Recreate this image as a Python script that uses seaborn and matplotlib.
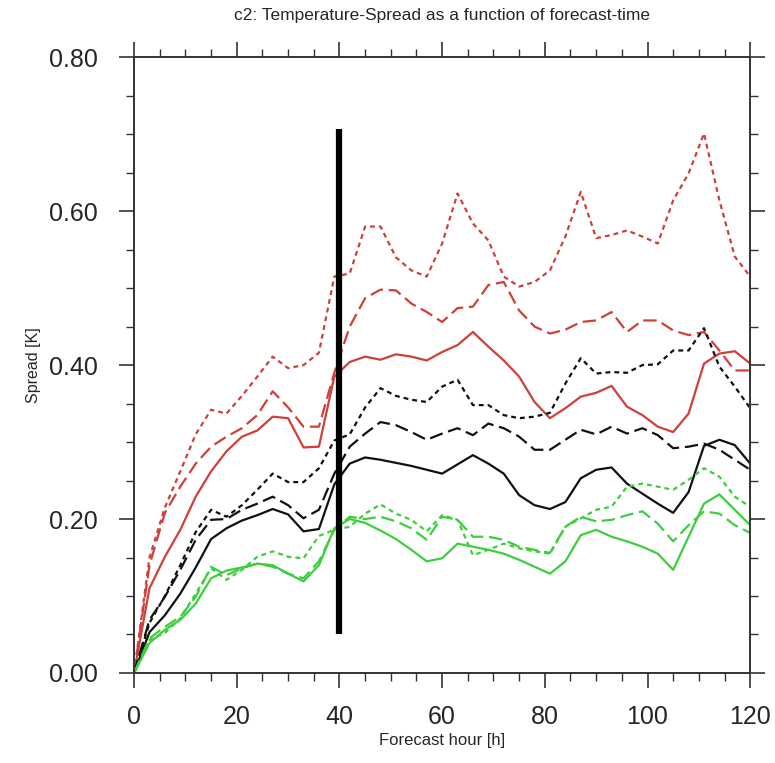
import numpy as np
import pandas as pd
import matplotlib
matplotlib.use("Agg")
import matplotlib.pyplot as plt
from matplotlib.ticker import MultipleLocator
import seaborn as sns

# Forecast lead times (3-hourly output)
hours = list(range(0, 121, 3))

# Spread [K] per experiment (colour) and variant (line style)
red_solid = [0.0, 0.11, 0.151, 0.186, 0.229, 0.262, 0.288, 0.307, 0.315, 0.333, 0.331,
             0.293, 0.294, 0.385, 0.404, 0.411, 0.407, 0.414, 0.411, 0.406, 0.417,
             0.426, 0.443, 0.424, 0.406, 0.385, 0.352, 0.331, 0.344, 0.359, 0.364,
             0.373, 0.346, 0.335, 0.32, 0.313, 0.337, 0.402, 0.415, 0.418, 0.402]
red_dash = [0.0, 0.14, 0.208, 0.242, 0.272, 0.294, 0.307, 0.318, 0.335, 0.366, 0.345,
            0.32, 0.32, 0.39, 0.45, 0.487, 0.498, 0.497, 0.48, 0.469, 0.456,
            0.474, 0.476, 0.504, 0.508, 0.471, 0.45, 0.441, 0.446, 0.456, 0.458,
            0.469, 0.443, 0.458, 0.458, 0.445, 0.439, 0.443, 0.419, 0.393, 0.393]
red_dot = [0.0, 0.15, 0.215, 0.262, 0.31, 0.342, 0.337, 0.36, 0.385, 0.411, 0.396,
           0.40, 0.416, 0.515, 0.519, 0.58, 0.58, 0.54, 0.523, 0.515, 0.558,
           0.623, 0.584, 0.562, 0.515, 0.502, 0.508, 0.523, 0.567, 0.625, 0.565,
           0.569, 0.575, 0.567, 0.558, 0.614, 0.649, 0.701, 0.614, 0.541, 0.515]
black_solid = [0.0, 0.053, 0.075, 0.103, 0.137, 0.174, 0.188, 0.198, 0.205, 0.213, 0.206,
               0.184, 0.187, 0.245, 0.272, 0.28, 0.277, 0.273, 0.269, 0.264, 0.259,
               0.271, 0.283, 0.272, 0.259, 0.231, 0.218, 0.213, 0.222, 0.253, 0.264,
               0.267, 0.246, 0.233, 0.22, 0.208, 0.235, 0.295, 0.303, 0.296, 0.272]
black_dash = [0.0, 0.069, 0.099, 0.134, 0.173, 0.199, 0.2, 0.212, 0.22, 0.229, 0.218,
              0.201, 0.212, 0.259, 0.294, 0.311, 0.326, 0.322, 0.313, 0.303, 0.311,
              0.318, 0.309, 0.324, 0.318, 0.307, 0.29, 0.29, 0.303, 0.316, 0.31,
              0.32, 0.311, 0.318, 0.309, 0.292, 0.294, 0.298, 0.29, 0.277, 0.264]
black_dot = [0.0, 0.065, 0.1, 0.14, 0.183, 0.212, 0.203, 0.218, 0.238, 0.259, 0.248,
             0.248, 0.266, 0.302, 0.31, 0.345, 0.37, 0.36, 0.355, 0.352, 0.372,
             0.381, 0.348, 0.348, 0.335, 0.331, 0.333, 0.338, 0.376, 0.409, 0.389,
             0.391, 0.39, 0.4, 0.401, 0.419, 0.419, 0.448, 0.398, 0.372, 0.344]
green_solid = [0.0, 0.039, 0.056, 0.069, 0.09, 0.123, 0.133, 0.137, 0.142, 0.14, 0.129,
               0.119, 0.14, 0.188, 0.2, 0.195, 0.185, 0.174, 0.16, 0.145, 0.149,
               0.168, 0.164, 0.16, 0.155, 0.147, 0.138, 0.129, 0.145, 0.179, 0.186,
               0.177, 0.171, 0.164, 0.155, 0.134, 0.177, 0.22, 0.232, 0.212, 0.192]
green_dash = [0.0, 0.045, 0.06, 0.073, 0.099, 0.138, 0.127, 0.136, 0.142, 0.138, 0.129,
              0.123, 0.145, 0.186, 0.203, 0.2, 0.203, 0.197, 0.188, 0.173, 0.203,
              0.199, 0.177, 0.177, 0.173, 0.164, 0.16, 0.156, 0.19, 0.203, 0.197,
              0.199, 0.205, 0.21, 0.194, 0.171, 0.192, 0.21, 0.207, 0.192, 0.182]
green_dot = [0.0, 0.043, 0.052, 0.071, 0.103, 0.136, 0.121, 0.134, 0.151, 0.158, 0.151,
             0.149, 0.178, 0.186, 0.19, 0.207, 0.219, 0.207, 0.199, 0.184, 0.205,
             0.199, 0.153, 0.16, 0.168, 0.162, 0.158, 0.155, 0.19, 0.201, 0.212,
             0.216, 0.242, 0.246, 0.242, 0.238, 0.251, 0.266, 0.255, 0.229, 0.216]

series = {
    ("red", "solid"): red_solid, ("red", "dash"): red_dash, ("red", "dot"): red_dot,
    ("black", "solid"): black_solid, ("black", "dash"): black_dash, ("black", "dot"): black_dot,
    ("green", "solid"): green_solid, ("green", "dash"): green_dash, ("green", "dot"): green_dot,
}

# Cut-over time marked by the vertical bar
marker_hour = 40
marker_range = [0.05, 0.707]

rows = []
for (col, sty), vals in series.items():
    for h, v in zip(hours, vals):
        rows.append({"hour": h, "spread": v, "group": col, "variant": sty})
df = pd.DataFrame(rows)

sns.set_theme(style="ticks")
plt.rcParams["font.family"] = ["Liberation Sans", "DejaVu Sans"]

fig = plt.figure(figsize=(7.75, 7.63), dpi=100)
ax = fig.add_axes([0.173, 0.118, 0.795, 0.807])

palette = {"red": "#cf4038", "black": "#111111", "green": "#3ccf3c"}
dashes = {"solid": "", "dash": (6, 2.6), "dot": (2.2, 1.8)}

sns.lineplot(data=df, x="hour", y="spread", hue="group", style="variant",
             palette=palette, dashes=dashes, linewidth=1.6, legend=False,
             estimator=None, sort=True, ax=ax)

ax.plot([marker_hour, marker_hour], marker_range, color="black", linewidth=4.5,
        solid_capstyle="butt", zorder=5)

ax.set_xlim(0, 120)
ax.set_ylim(0, 0.8)
ax.xaxis.set_major_locator(MultipleLocator(20))
ax.xaxis.set_minor_locator(MultipleLocator(5))
ax.yaxis.set_major_locator(MultipleLocator(0.2))
ax.yaxis.set_minor_locator(MultipleLocator(0.05))
ax.yaxis.set_major_formatter(plt.FuncFormatter(lambda v, p: f"{v:.2f}"))

for s in ax.spines.values():
    s.set_visible(True)
    s.set_linewidth(1.4)
    s.set_color("#333333")

ax.tick_params(which="both", direction="out", top=True, right=True,
               labeltop=False, labelright=False, color="#333333")
ax.tick_params(which="major", length=11, width=1.2, labelsize=18)
ax.tick_params(axis="x", which="major", pad=12)
ax.tick_params(axis="y", which="major", pad=15)
ax.tick_params(which="minor", length=5.5, width=1.0)

ax.set_xlabel("Forecast hour [h]", fontsize=12, labelpad=3)
ax.set_ylabel("Spread [K]", fontsize=11.5, labelpad=6)
ax.set_title("c2: Temperature-Spread as a function of forecast-time",
             fontsize=12.5, pad=27)

fig.savefig("out.png", dpi=100, facecolor="white")
